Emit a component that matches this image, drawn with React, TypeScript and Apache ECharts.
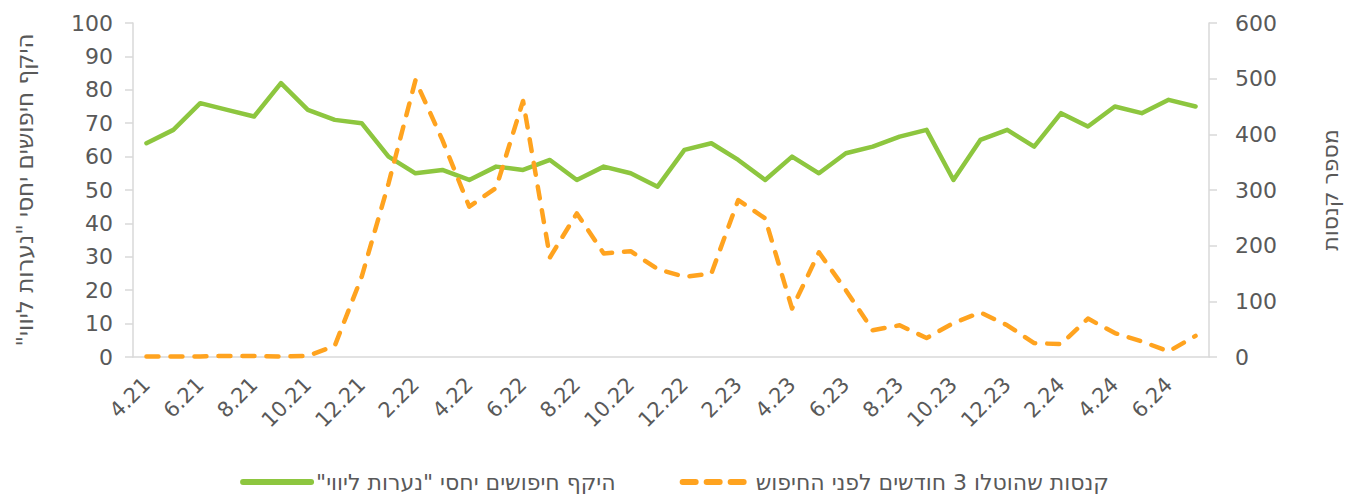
import React, { useEffect, useRef } from "react";
import * as echarts from "echarts";

const categories = [
  "4.21", "5.21", "6.21", "7.21", "8.21", "9.21", "10.21", "11.21", "12.21",
  "1.22", "2.22", "3.22", "4.22", "5.22", "6.22", "7.22", "8.22", "9.22", "10.22", "11.22", "12.22",
  "1.23", "2.23", "3.23", "4.23", "5.23", "6.23", "7.23", "8.23", "9.23", "10.23", "11.23", "12.23",
  "1.24", "2.24", "3.24", "4.24", "5.24", "6.24", "7.24",
];

const searchVolume = [
  64, 68, 76, 74, 72, 82, 74, 71, 70,
  60, 55, 56, 53, 57, 56, 59, 53, 57, 55, 51, 62,
  64, 59, 53, 60, 55, 61, 63, 66, 68, 53, 65, 68,
  63, 73, 69, 75, 73, 77, 75,
];

const fines = [
  1, 1, 1, 2, 2, 1, 2, 20, 144,
  312, 497, 390, 270, 304, 460, 179, 258, 186, 190, 158, 144,
  150, 282, 249, 87, 188, 120, 48, 57, 34, 61, 80, 57,
  25, 23, 69, 43, 28, 10, 38,
];

const leftTicks = [0, 100, 10];
const rightTicks = [0, 600, 100];

const seriesNameGreen = 'היקף חיפושים יחסי "נערות ליווי"\u200F';
const seriesNameOrange = "קנסות שהוטלו 3 חודשים לפני החיפוש";
const leftAxisName = 'היקף חיפושים יחסי "נערות ליווי"\u200F';
const rightAxisName = "מספר קנסות";

const GREEN = "#8DC63F";
const ORANGE = "#FFA31F";
const TEXT = "#595959";
const AXIS = "#D9D9D9";
const FONT = "'DejaVu Sans', 'Liberation Sans', sans-serif";

export default function App() {
  const ref = useRef<HTMLDivElement>(null);

  useEffect(() => {
    if (!ref.current) return;
    const chart = echarts.init(ref.current, undefined, { renderer: "svg" });
    chart.setOption({
      animation: false,
      backgroundColor: "#FFFFFF",
      textStyle: { fontFamily: FONT, color: TEXT },
      grid: { left: 133, right: 133, top: 23, bottom: 137, containLabel: false },
      legend: {
        top: 465,
        left: "center",
        itemWidth: 68,
        itemHeight: 14,
        itemGap: 64,
        itemStyle: { opacity: 0 },
        textStyle: { fontSize: 22, lineHeight: 24, color: TEXT, fontFamily: FONT },
        data: [
          {
            name: seriesNameGreen,
            itemStyle: { opacity: 0 },
            lineStyle: { color: GREEN, width: 6, cap: "round" },
          },
          {
            name: seriesNameOrange,
            itemStyle: { opacity: 0 },
            lineStyle: { color: ORANGE, width: 6, type: [13, 11], cap: "round" },
          },
        ],
      },
      xAxis: {
        type: "category",
        data: categories,
        boundaryGap: true,
        axisLine: { show: true, lineStyle: { color: AXIS, width: 1.5 } },
        axisTick: { show: false },
        axisLabel: {
          interval: 1,
          rotate: 45,
          fontSize: 21,
          color: TEXT,
          margin: 24,
          fontFamily: FONT,
        },
        splitLine: { show: false },
      },
      yAxis: [
        {
          type: "value",
          min: leftTicks[0],
          max: leftTicks[1],
          interval: leftTicks[2],
          position: "left",
          name: leftAxisName,
          nameLocation: "middle",
          nameRotate: 90,
          nameGap: 97,
          nameTextStyle: { fontSize: 23, color: TEXT, fontFamily: FONT },
          axisLine: { show: true, lineStyle: { color: AXIS, width: 1.5 } },
          axisTick: { show: true, length: 8, lineStyle: { color: AXIS, width: 1.5 } },
          axisLabel: { fontSize: 22, color: TEXT, margin: 20, fontFamily: FONT },
          splitLine: { show: false },
        },
        {
          type: "value",
          min: rightTicks[0],
          max: rightTicks[1],
          interval: rightTicks[2],
          position: "right",
          name: rightAxisName,
          nameLocation: "middle",
          nameRotate: 90,
          nameGap: 110,
          nameTextStyle: { fontSize: 22, color: TEXT, fontFamily: FONT },
          axisLine: { show: true, lineStyle: { color: AXIS, width: 1.5 } },
          axisTick: { show: true, length: 8, lineStyle: { color: AXIS, width: 1.5 } },
          axisLabel: { fontSize: 22, color: TEXT, margin: 26, fontFamily: FONT },
          splitLine: { show: false },
        },
      ],
      series: [
        {
          name: seriesNameGreen,
          type: "line",
          yAxisIndex: 0,
          data: searchVolume,
          symbol: "none",
          lineStyle: { color: GREEN, width: 4.5, cap: "round", join: "round" },
          itemStyle: { color: GREEN },
        },
        {
          name: seriesNameOrange,
          type: "line",
          yAxisIndex: 1,
          data: fines,
          symbol: "none",
          lineStyle: {
            color: ORANGE,
            width: 4.5,
            type: [12, 12],
            cap: "round",
            join: "round",
          },
          itemStyle: { color: ORANGE },
        },
      ],
    });
    return () => chart.dispose();
  }, []);

  return (
    <div
      ref={ref}
      style={{ position: "fixed", left: 0, top: 0, width: 1349, height: 494 }}
    />
  );
}
